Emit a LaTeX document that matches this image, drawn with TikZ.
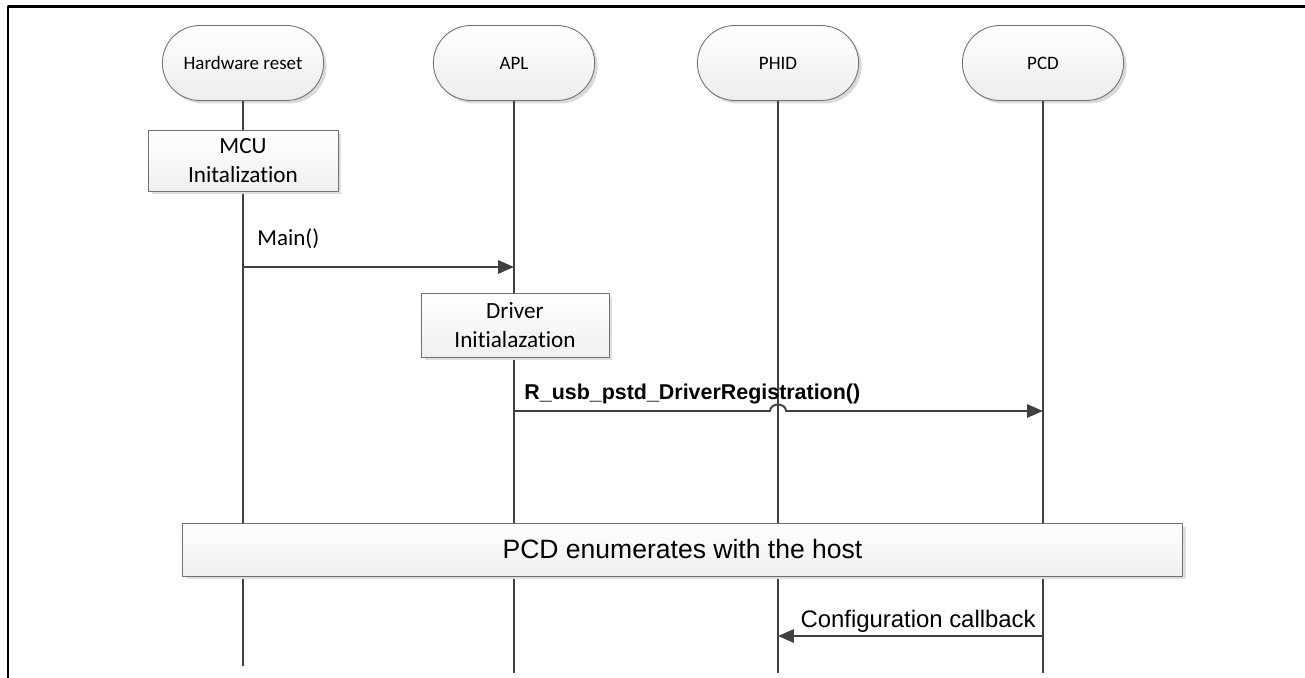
\documentclass[tikz,border=0pt]{standalone}
\usepackage{fontspec}
\setmainfont{Carlito}[Ligatures=NoCommon]
\newfontfamily\arialfont{Liberation Sans}
\usetikzlibrary{arrows.meta,shapes.misc,shadows,calc}

\definecolor{linegray}{HTML}{404040}
\definecolor{boxedge}{HTML}{707070}

\tikzset{
  actor/.style={rounded rectangle, draw=boxedge, line width=0.5pt,
    top color=white, bottom color=gray!14,
    minimum width=3.46cm, minimum height=1.5cm,
    font=\fontsize{10.8}{13}\selectfont,
    drop shadow={shadow xshift=0.06cm, shadow yshift=-0.06cm, fill=gray!30, opacity=1}},
  activity/.style={rectangle, draw=boxedge, line width=0.5pt, align=center,
    top color=white, bottom color=gray!12,
    font=\fontsize{13.2}{16.5}\selectfont,
    drop shadow={shadow xshift=0.07cm, shadow yshift=-0.07cm, fill=gray!25, opacity=1}},
  lifeline/.style={draw=linegray, line width=1.1pt},
  msg/.style={lifeline, -{Triangle[length=9pt,width=7.5pt]}},
  msglabel/.style={inner sep=0pt, font=\fontsize{13.1}{15}\selectfont},
}

\begin{document}
\begin{tikzpicture}[x=0.02cm, y=-0.02cm, line join=round]

  \useasboundingbox (0,0) rectangle (1305,678);

  % ---------- frame ----------
  \draw[black, line width=1.7pt] (8,678) -- (8,7) -- (1305,7);

  % ---------- participants ----------
  \node[actor] (hw)   at (243,63)  {Hardware reset};
  \node[actor] (apl)  at (514,63)  {APL};
  \node[actor] (phid) at (778,63)  {PHID};
  \node[actor] (pcd)  at (1043,63) {PCD};

  \coordinate (hw-end)   at (243,666);
  \coordinate (apl-end)  at (514,673);
  \coordinate (phid-end) at (778,673);
  \coordinate (pcd-end)  at (1043,673);

  % ---------- lifelines ----------
  \foreach \p in {hw,apl,phid,pcd}{
    \draw[lifeline] (\p.south) -- (\p-end);
  }

  % ---------- activities ----------
  \node[activity, minimum width=3.8cm, minimum height=1.22cm] (mcu)
        at (243,160.5) {MCU\\Initalization};
  \node[activity, minimum width=3.76cm, minimum height=1.28cm] (drv)
        at (515,325) {Driver\\Initialazation};
  \node[activity, minimum width=20.02cm, minimum height=1.06cm,
        font=\arialfont\fontsize{15.1}{18}\selectfont] (enum)
        at (682.5,549.5) {PCD enumerates with the host};

  % ---------- Main() ----------
  \coordinate (main-a) at (hw |- 0,267);
  \coordinate (main-b) at (apl |- 0,267);
  \draw[msg] (main-a) -- (main-b);
  \node[msglabel, anchor=base west] (mainlbl) at (257,246) {Main()};

  % ---------- driver registration (hops over PHID) ----------
  \coordinate (reg-a) at (apl |- 0,411);
  \coordinate (reg-b) at (pcd |- 0,411);
  \coordinate (reg-hop) at (phid |- 0,411);
  \draw[msg] (reg-a) -- ($(reg-hop)+(-8,0)$)
     arc[start angle=180, end angle=0, x radius=0.16cm, y radius=0.13cm] -- (reg-b);
  \node[msglabel, anchor=base west, font=\arialfont\bfseries\fontsize{12.2}{14}\selectfont]
        (reglbl) at (524,400) {R\_usb\_pstd\_DriverRegistration()};

  % ---------- configuration callback ----------
  \coordinate (cfg-a) at (pcd |- 0,636);
  \coordinate (cfg-b) at (phid |- 0,636);
  \draw[msg] (cfg-a) -- (cfg-b);
  \node[msglabel, anchor=base east, font=\arialfont\fontsize{13.6}{16}\selectfont]
        (cfglbl) at (1036,627) {Configuration callback};

\end{tikzpicture}
\end{document}
